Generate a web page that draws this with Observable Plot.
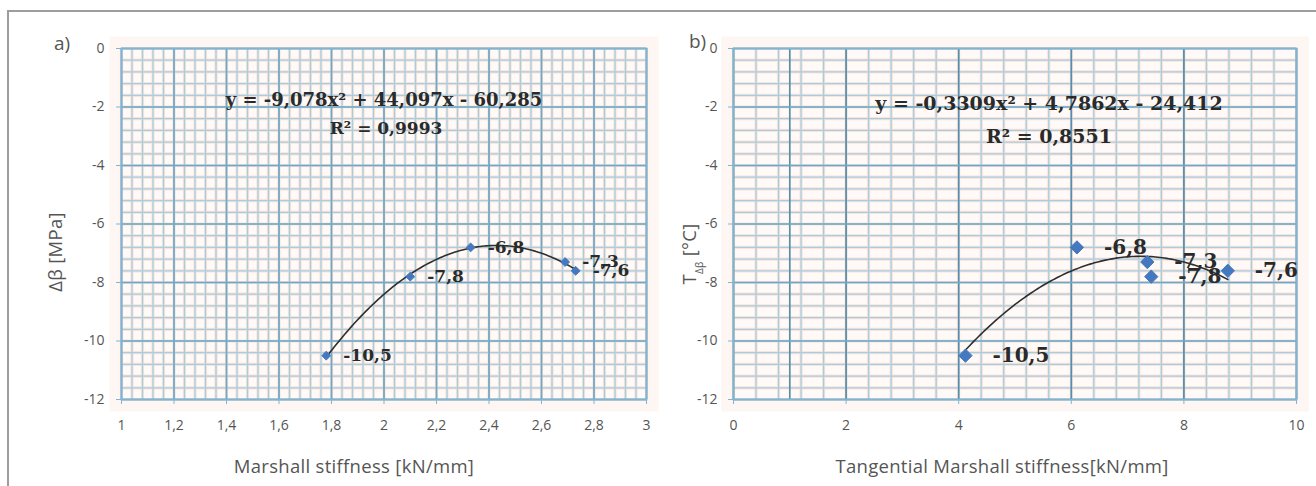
<!DOCTYPE html>
<html><head><meta charset="utf-8">
<script src="https://cdn.jsdelivr.net/npm/d3@7"></script>
<script src="https://cdn.jsdelivr.net/npm/@observablehq/plot@0.6"></script>
<style>
body{margin:0;background:#fff;width:1316px;height:486px;overflow:hidden;font-family:"Open Sans",sans-serif;position:relative}
#frame{position:absolute;left:7px;top:10px;width:1309px;height:476px;border-top:2px solid #9d9d9d;border-left:2px solid #9d9d9d;box-sizing:border-box}
#a,#b{position:absolute;top:0}
#a{left:0}
#b{left:660px}
.tag{position:absolute;font-size:19px;color:#555;font-family:"Open Sans",sans-serif}
</style></head><body>
<div id="frame"></div>
<div id="a"></div><div id="b"></div>
<div class="tag" style="left:54px;top:30px">a)</div>
<div class="tag" style="left:689px;top:28px">b)</div>
<script>
// ---- data ----
const marshallX   = [1.78, 2.10, 2.33, 2.69, 2.73];
const deltaBeta   = [-10.5, -7.8, -6.8, -7.3, -7.6];
const tangentialX = [4.12, 6.10, 7.35, 7.42, 8.78];
const tempDB      = [-10.5, -6.8, -7.3, -7.8, -7.6];
const leftFit  = [-9.078, 44.097, -60.285];
const rightFit = [-0.3309, 4.7862, -24.412];
const leftEq  = ["y = -9,078x² + 44,097x - 60,285", "R² = 0,9993"];
const rightEq = ["y = -0,3309x² + 4,7862x - 24,412", "R² = 0,8551"];
const leftXTicks  = [1, 1.2, 1.4, 1.6, 1.8, 2, 2.2, 2.4, 2.6, 2.8, 3];
const rightXTicks = [0, 2, 4, 6, 8, 10];
const rightExtraGrid = [1];
const yTicks = [0, -2, -4, -6, -8, -10, -12];

const fmt = d => String(d).replace(".", ",");
const steps = (a, b, s) => d3.range(0, Math.round((b - a) / s) + 1).map(i => +(a + i * s).toFixed(4));
const serif = "'DejaVu Serif', serif";

function panel(c) {
  const pts = c.xs.map((x, i) => ({x, y: c.ys[i], label: fmt(c.ys[i])}));
  const [x0, x1] = d3.extent(c.xs);
  const curve = d3.range(0, 121).map(i => {
    const x = x0 + (x1 - x0) * i / 120;
    return {x, y: c.fit[0] * x * x + c.fit[1] * x + c.fit[2]};
  });
  const eq = c.eq.map((t, i) => ({t, i}));
  return Plot.plot({
    width: c.width, height: 486,
    marginLeft: c.mL, marginRight: c.mR, marginTop: 48, marginBottom: 87,
    style: {fontFamily: "'Open Sans', sans-serif", fontSize: "14px", color: "#555", background: "transparent"},
    x: {domain: c.xDomain},
    y: {domain: [-12, 0]},
    marks: [
      Plot.frame({fill: "#fef6f2", stroke: null, inset: -12}),
      Plot.frame({fill: "#fffaf7", stroke: null}),
      Plot.gridX(c.xMinor, {stroke: "#fae3d8", strokeOpacity: 1, strokeWidth: 3.2}),
      Plot.gridY(c.yMinor, {stroke: "#fae3d8", strokeOpacity: 1, strokeWidth: 3.2}),
      Plot.gridX(c.xMinor, {stroke: "#a6cee2", strokeOpacity: 1, strokeWidth: 1.3}),
      Plot.gridY(c.yMinor, {stroke: "#a6cee2", strokeOpacity: 1, strokeWidth: 1.3}),
      Plot.gridX(c.xMajor, {stroke: c.majorColor, strokeOpacity: 1, strokeWidth: 1.7}),
      Plot.gridY(yTicks, {stroke: "#72a8c6", strokeOpacity: 1, strokeWidth: 1.7}),
      Plot.frame({stroke: "#80b4d0", strokeWidth: 1.8}),
      Plot.line(curve, {x: "x", y: "y", stroke: "#2f2f2f", strokeWidth: 1.6}),
      Plot.dot(pts, {x: "x", y: "y", symbol: "diamond2", r: c.r, fill: "#4478bf", stroke: "#4478bf", strokeWidth: 1}),
      Plot.text(pts, {x: "x", y: "y", text: "label", dx: c.labelDx, textAnchor: "start",
        fontFamily: serif, fontWeight: "bold", fontSize: c.labelSize, fill: "#2a2a2a"}),
      Plot.text(eq.filter(d => d.i === 0), {text: "t", frameAnchor: "top", dx: c.eqDx, dy: c.eqDy[0], lineAnchor: "middle",
        fontFamily: serif, fontWeight: "bold", fontSize: c.eqSize[0], fill: "#2a2a2a"}),
      Plot.text(eq.filter(d => d.i === 1), {text: "t", frameAnchor: "top", dx: c.eqDx + c.r2Dx, dy: c.eqDy[1], lineAnchor: "middle",
        fontFamily: serif, fontWeight: "bold", fontSize: c.eqSize[1], fill: "#2a2a2a"}),
      Plot.axisX(c.xTicks, {tickFormat: fmt, tickSize: 5, tickPadding: 16, stroke: "#80b4d0",
        label: c.xLabel, labelAnchor: "center", labelArrow: "none", labelOffset: 73, fill: "#555"}),
      Plot.axisY(yTicks, {tickFormat: d => String(d), tickSize: 5, tickPadding: c.yPad, stroke: "#80b4d0",
        label: c.yLabel, labelAnchor: "center", labelArrow: "none", labelOffset: 73, fill: "#555"})
    ]
  });
}

const left = panel({
  width: 660, mL: 121, mR: 14, xDomain: [1, 3],
  xs: marshallX, ys: deltaBeta, fit: leftFit, eq: leftEq, eqDx: 0, r2Dx: 2, eqDy: [52, 80], eqSize: [18, 17],
  xTicks: leftXTicks, xMinor: steps(1, 3, 0.04), xMajor: leftXTicks, majorColor: "#72a8c6",
  yMinor: steps(-12, 0, 0.4), r: 4, labelDx: 17, labelSize: 17, yPad: 12,
  xLabel: "Marshall stiffness [kN/mm]", yLabel: "Δβ [MPa]"
});
const right = panel({
  width: 656, mL: 73, mR: 20, xDomain: [0, 10],
  xs: tangentialX, ys: tempDB, fit: rightFit, eq: rightEq, eqDx: 34, r2Dx: 0, eqDy: [55, 88], eqSize: [19, 19],
  xTicks: rightXTicks, xMinor: steps(0, 10, 0.4), xMajor: rightXTicks.concat(rightExtraGrid), majorColor: "#5a8dab",
  yMinor: steps(-12, 0, 0.4), r: 6, labelDx: 27, labelSize: 20, yPad: 11,
  xLabel: "Tangential Marshall stiffness[kN/mm]", yLabel: "T [°C]"
});
document.getElementById("a").append(left);
document.getElementById("b").append(right);

// [svg, x-label dx, y-label dx, y-label dy]
const shifts = [[left, -30, 0, 28], [right, -13, 22, 30]];
for (const [svg, xdx, ydx, ydy] of shifts) {
  svg.querySelectorAll('[aria-label$="axis label"] text').forEach(t => {
    t.textContent = t.textContent.replace(/\s*[→←↑↓]\s*/g, "").trim();
    t.style.fontSize = "18.5px";
    t.style.letterSpacing = "0.3px";
    t.style.fill = "#555";
  });
  const gx = svg.querySelector('[aria-label="x-axis label"]');
  if (gx) gx.setAttribute("transform", `translate(${xdx},0) ` + (gx.getAttribute("transform") || ""));
  const gy = svg.querySelector('[aria-label="y-axis label"]');
  if (gy) gy.setAttribute("transform", `translate(${ydx},${ydy}) ` + (gy.getAttribute("transform") || ""));
}
// subscript in the right y label
const yl = right.querySelector('[aria-label="y-axis label"] text');
if (yl) {
  yl.textContent = "";
  const ns = "http://www.w3.org/2000/svg";
  const t1 = document.createElementNS(ns, "tspan"); t1.textContent = "T";
  const t2 = document.createElementNS(ns, "tspan"); t2.textContent = "Δβ";
  t2.setAttribute("baseline-shift", "sub"); t2.style.fontSize = "10px";
  const t3 = document.createElementNS(ns, "tspan"); t3.textContent = " [°C]";
  yl.append(t1, t2, t3);
}
</script>
</body></html>
